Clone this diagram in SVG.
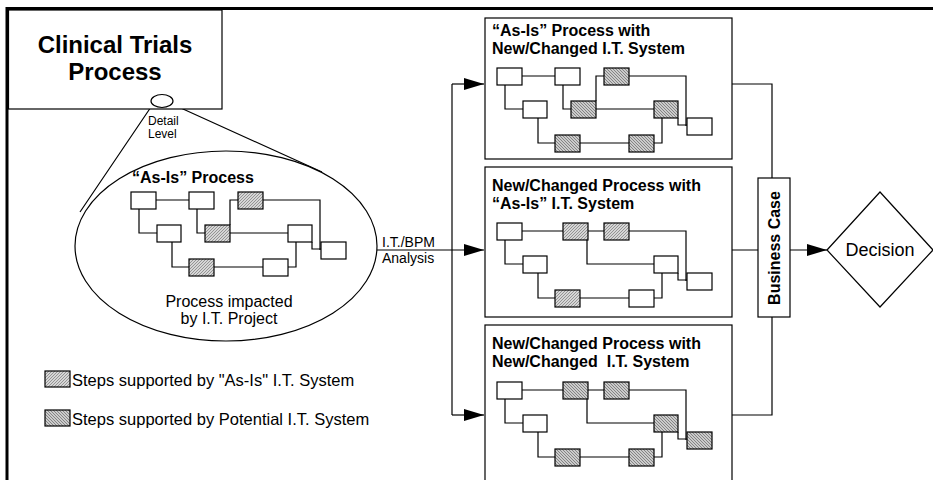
<svg xmlns="http://www.w3.org/2000/svg" width="933" height="480" viewBox="0 0 933 480">
<defs>
<pattern id="asis" patternUnits="userSpaceOnUse" width="3" height="3">
<rect width="3" height="3" fill="#d6d6d6"/>
<path d="M-1,1 L1,-1 M0,3 L3,0 M2,4 L4,2" stroke="#777" stroke-width="0.7"/>
</pattern>
<pattern id="pot" patternUnits="userSpaceOnUse" width="3" height="3">
<rect width="3" height="3" fill="#cbcbcb"/>
<path d="M-1,2 L1,4 M0,0 L3,3 M2,-1 L4,1" stroke="#666" stroke-width="0.7"/>
</pattern>
<marker id="arr" markerUnits="userSpaceOnUse" markerWidth="20" markerHeight="12" refX="20" refY="6" orient="auto">
<path d="M0,0 L20,6 L0,12 Z" fill="#000"/>
</marker>
<g id="mini1">
<path class="ln" d="M156,200 H189 M139,209 V233 H157 M197,209 V233 H205 M230,225 V200 H238 M230,233 H288 M263,200 H320 V250 M312,242 V249 H321 M172,242 V267 H189 M214,267 H263 M288,267 H296 V242"/>
</g>
<g id="mini2">
<path class="ln" d="M156,200 H197 M222,200 H238 M263,200 H320 V250 M139,209 V233 H157 M221,209 V233 H288 M172,242 V267 H189 M214,267 H263 M288,267 H296 V242 M312,242 V249 H321"/>
</g>
</defs>
<style>
.ln{fill:none;stroke:#000;stroke-width:1.2}
.bx{stroke:#000;stroke-width:1.2}
.w{fill:#fff}
.a{fill:url(#asis)}
.p{fill:url(#pot)}
.frame{fill:#fff;stroke:#000;stroke-width:1.2}
text{font-family:"Liberation Sans",Arial,Helvetica,sans-serif;fill:#000}
.b{font-weight:bold}
</style>
<rect width="933" height="480" fill="#fff"/>
<path d="M7,480 V8.5 H933" fill="none" stroke="#000" stroke-width="3"/>

<g id="connectors">
<path class="ln" d="M153,104 L80,212 M172,104 L322,172"/>
<path class="ln" d="M377,250 H484" marker-end="url(#arr)"/>
<path class="ln" d="M452,84 V415"/>
<path class="ln" d="M452,84 H484" marker-end="url(#arr)"/>
<path class="ln" d="M452,415 H484" marker-end="url(#arr)"/>
<path class="ln" d="M732,84 H772 V178 M732,250 H758 M732,415 H772 V317"/>
<path class="ln" d="M790,250 H827" marker-end="url(#arr)"/>
</g>

<g id="clinical-trials">
<rect class="frame" x="8.5" y="10" width="213.5" height="99"/>
<text class="b" x="115" y="53" font-size="24" text-anchor="middle">Clinical Trials</text>
<text class="b" x="115" y="80" font-size="24" text-anchor="middle">Process</text>
<ellipse cx="162" cy="101" rx="11" ry="6.5" fill="#fff" stroke="#000" stroke-width="1.2"/>
<text x="148" y="125" font-size="12">Detail</text>
<text x="148" y="138" font-size="12">Level</text>
</g>

<g id="as-is-process">
<ellipse cx="226" cy="246" rx="151" ry="95" fill="#fff" stroke="#000" stroke-width="1.2"/>
<text class="b" x="132" y="183" font-size="16">“As-Is” Process</text>
<use href="#mini1"/>
<rect class="bx w" x="131" y="192" width="25" height="17"/>
<rect class="bx w" x="189" y="192" width="25" height="17"/>
<rect class="bx a" x="238" y="192" width="25" height="17"/>
<rect class="bx w" x="157" y="225" width="24" height="17"/>
<rect class="bx a" x="205" y="225" width="25" height="17"/>
<rect class="bx w" x="288" y="225" width="24" height="17"/>
<rect class="bx w" x="321" y="242" width="25" height="17"/>
<rect class="bx a" x="189" y="259" width="25" height="17"/>
<rect class="bx w" x="263" y="259" width="25" height="17"/>
<text x="229" y="307" font-size="16" text-anchor="middle">Process impacted</text>
<text x="229" y="324" font-size="16" text-anchor="middle">by I.T. Project</text>
</g>

<g id="analysis-label">
<text x="382" y="247" font-size="14">I.T./BPM</text>
<text x="382" y="263" font-size="14">Analysis</text>
</g>

<g id="option1">
<rect class="frame" x="485" y="18" width="247" height="141"/>
<text class="b" x="492" y="36" font-size="16">“As-Is” Process with</text>
<text class="b" x="492" y="54" font-size="16">New/Changed I.T. System</text>
<g transform="translate(366,-124)">
<use href="#mini1"/>
<rect class="bx w" x="131" y="192" width="25" height="17"/>
<rect class="bx w" x="189" y="192" width="25" height="17"/>
<rect class="bx p" x="238" y="192" width="25" height="17"/>
<rect class="bx w" x="157" y="225" width="24" height="17"/>
<rect class="bx p" x="205" y="225" width="25" height="17"/>
<rect class="bx p" x="288" y="225" width="24" height="17"/>
<rect class="bx w" x="321" y="242" width="25" height="17"/>
<rect class="bx p" x="189" y="259" width="25" height="17"/>
<rect class="bx p" x="263" y="259" width="25" height="17"/>
</g>
</g>

<g id="option2">
<rect class="frame" x="485" y="167" width="247" height="150"/>
<text class="b" x="492" y="191" font-size="16">New/Changed Process with</text>
<text class="b" x="492" y="209" font-size="16">“As-Is” I.T. System</text>
<g transform="translate(366,31)">
<use href="#mini2"/>
<rect class="bx w" x="131" y="192" width="25" height="17"/>
<rect class="bx a" x="197" y="192" width="25" height="17"/>
<rect class="bx a" x="238" y="192" width="25" height="17"/>
<rect class="bx w" x="157" y="225" width="24" height="17"/>
<rect class="bx w" x="288" y="225" width="24" height="17"/>
<rect class="bx w" x="321" y="242" width="25" height="17"/>
<rect class="bx a" x="189" y="259" width="25" height="17"/>
<rect class="bx w" x="263" y="259" width="25" height="17"/>
</g>
</g>

<g id="option3">
<rect class="frame" x="485" y="325" width="247" height="170"/>
<text class="b" x="492" y="349" font-size="16">New/Changed Process with</text>
<text class="b" x="492" y="367" font-size="16" xml:space="preserve">New/Changed  I.T. System</text>
<g transform="translate(366,190)">
<use href="#mini2"/>
<rect class="bx w" x="131" y="192" width="25" height="17"/>
<rect class="bx p" x="197" y="192" width="25" height="17"/>
<rect class="bx p" x="238" y="192" width="25" height="17"/>
<rect class="bx w" x="157" y="225" width="24" height="17"/>
<rect class="bx p" x="288" y="225" width="24" height="17"/>
<rect class="bx p" x="321" y="242" width="25" height="17"/>
<rect class="bx p" x="189" y="259" width="25" height="17"/>
<rect class="bx p" x="263" y="259" width="25" height="17"/>
</g>
</g>

<g id="business-case">
<rect class="frame" x="758" y="178" width="32" height="139"/>
<text class="b" transform="translate(780,248) rotate(-90)" font-size="16" text-anchor="middle">Business Case</text>
</g>

<g id="decision">
<path d="M827,250 L880,192 L933,250 L880,307 Z" fill="#fff" stroke="#000" stroke-width="1.2"/>
<text x="880" y="256" font-size="18" text-anchor="middle">Decision</text>
</g>

<g id="legend">
<rect class="bx a" x="45" y="371" width="25" height="16"/>
<text x="72" y="386" font-size="16.5">Steps supported by "As-Is" I.T. System</text>
<rect class="bx p" x="45" y="410" width="25" height="16"/>
<text x="72" y="425" font-size="16.5">Steps supported by Potential I.T. System</text>
</g>
</svg>
